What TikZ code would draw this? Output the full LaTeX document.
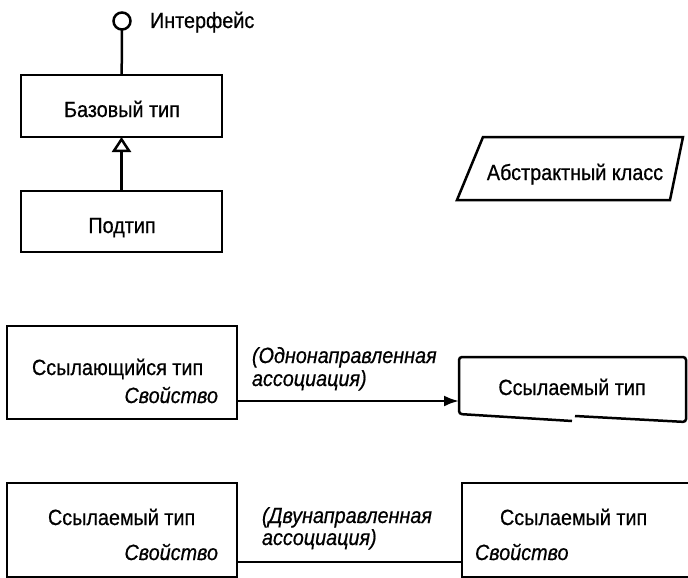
\documentclass[tikz,border=0pt]{standalone}
\usepackage{fontspec}
\setmainfont[FakeStretch=0.9, FakeBold=0.6]{Liberation Sans}
\usetikzlibrary{arrows.meta}
\begin{document}
\begin{tikzpicture}[x=1pt,y=-1pt,
  every node/.style={font=\fontsize{22}{25}\selectfont, inner sep=0pt, outer sep=0pt},
  line/.style={line width=2.5pt},
  box/.style={draw, line width=2.5pt, rectangle, inner sep=0pt},
  ital/.style={font=\fontsize{22}{25}\selectfont\itshape}
]
\fill[white] (0,0) rectangle (688,578);
\useasboundingbox (0,0) rectangle (688,578);
\clip (0,0) rectangle (688,578);

% --- interface, base type and subtype ---
\node[circle, draw, line width=2.5pt, minimum size=17pt] (iface) at (122,21) {};
\node[anchor=base west] (ifacelbl) at (150,28) {Интерфейс};
\node[box, minimum width=201pt, minimum height=62pt] (basetype) at (121.5,106) {};
\node[anchor=base] (basetxt) at (122,117) {Базовый тип};
\node[box, minimum width=201pt, minimum height=61pt] (subtype) at (121.5,221.5) {};
\node[anchor=base] (subtxt) at (122,233) {Подтип};
\draw[line] (iface) -- (basetype);
\draw[line, -{Triangle[open, length=15pt, width=19pt]}] (subtype) -- (basetype);

% --- abstract class ---
\draw[line] (483,137) -- (683,137) -- (670,200) -- (457,200) -- cycle;
\node[anchor=base] (abstxt) at (575,180) {Абстрактный класс};

% --- unidirectional association ---
\node[box, minimum width=230pt, minimum height=93pt] (referring) at (122,372.5) {};
\node[anchor=base west] (referringtxt) at (32,375) {Ссылающийся тип};
\node[anchor=base east, ital] (referringprop) at (218,403) {Свойство};
\node[minimum width=227pt, minimum height=65pt] (target) at (572.5,389.5) {};
\draw[line, rounded corners=3pt] (572,421) -- (459,414) -- (459,357) -- (686,357) -- (686,422) -- (575,416);
\node[anchor=base] (targettxt) at (572,395) {Ссылаемый тип};
\draw[line, -{Latex[length=15pt, width=11pt]}] (referring.east |- 0,401) -- (target.west |- 0,401);
\node[anchor=base west, ital] (unilbl1) at (252,363) {(Однонаправленная};
\node[anchor=base west, ital] (unilbl2) at (252,386) {ассоциация)};

% --- bidirectional association ---
\node[box, minimum width=230pt, minimum height=94pt] (leftref) at (122,530) {};
\node[anchor=base west] (lefttxt) at (48,525) {Ссылаемый тип};
\node[anchor=base east, ital] (leftprop) at (218,560) {Свойство};
\node[box, minimum width=240pt, minimum height=94pt] (rightref) at (582,530) {};
\node[anchor=base west] (righttxt) at (500,525) {Ссылаемый тип};
\node[anchor=base west, ital] (rightprop) at (475,560) {Свойство};
\draw[line] (leftref.east |- 0,562) -- (rightref.west |- 0,562);
\node[anchor=base west, ital] (bilbl1) at (262,523) {(Двунаправленная};
\node[anchor=base west, ital] (bilbl2) at (262,545) {ассоциация)};
\end{tikzpicture}
\end{document}
